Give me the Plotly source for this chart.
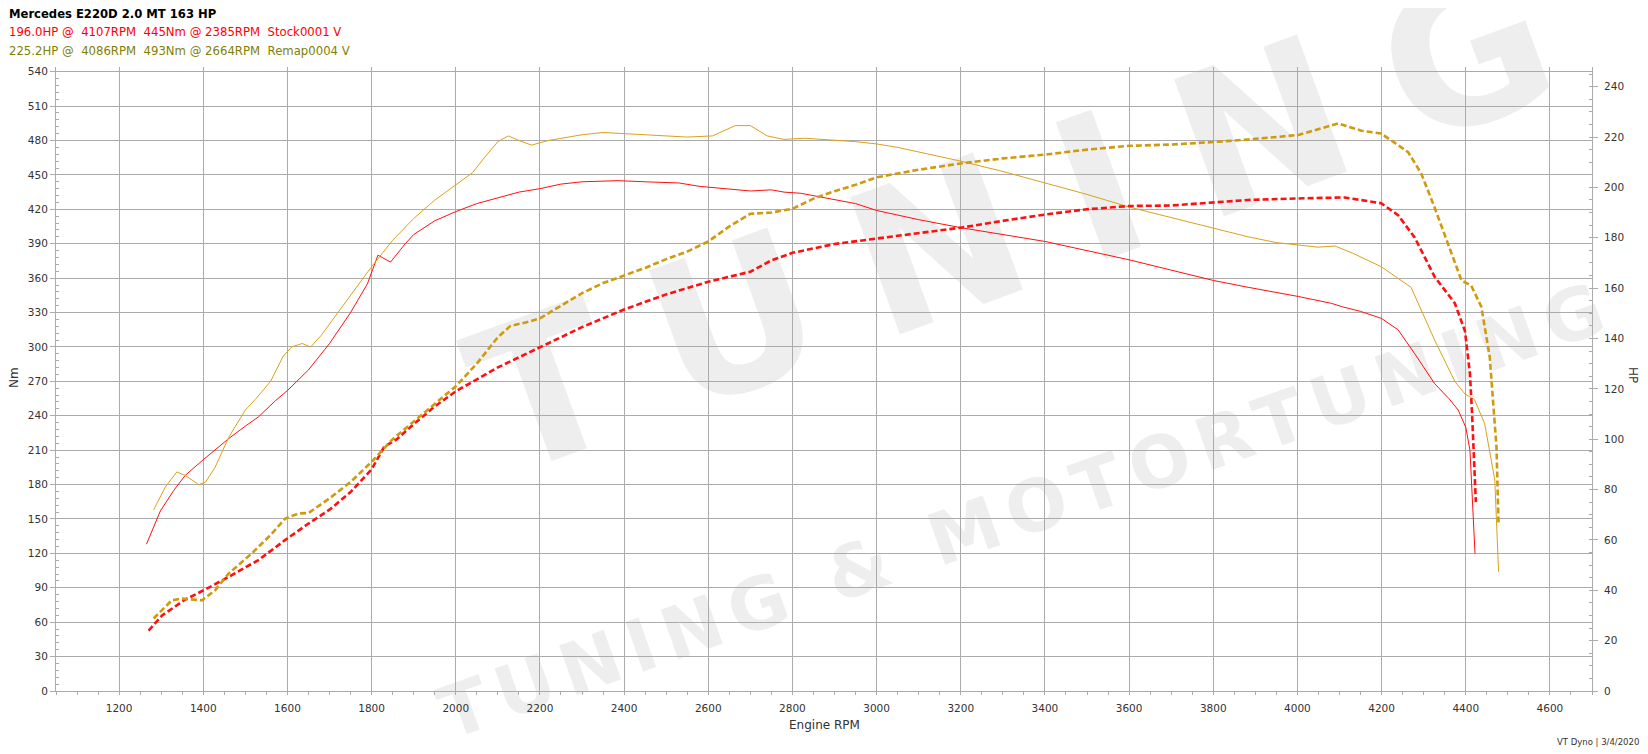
import base64
import plotly.graph_objects as go

# ---------------- data ----------------
stock_tq_rpm = [1265, 1298, 1330, 1357, 1401, 1460, 1500, 1531, 1571, 1600, 1650, 1700, 1750, 1790, 1815, 1845,
                1880, 1900, 1950, 2000, 2050, 2100, 2150, 2200, 2250, 2300, 2385, 2450, 2530, 2580, 2650, 2700,
                2750, 2780, 2820, 2880, 2950, 3000, 3050, 3100, 3200, 3300, 3400, 3500, 3600, 3700, 3800, 3883,
                4002, 4081, 4107, 4150, 4199, 4239, 4279, 4326, 4360, 4382, 4400, 4410, 4415, 4422]
stock_tq_nm = [128, 157, 175, 188, 202, 220, 231, 239, 253, 262, 280, 303, 330, 355, 380, 374,
               390, 398, 410, 418, 425, 430, 435, 438, 442, 444, 445, 444, 443, 440, 438, 436,
               437, 435, 434, 430, 425, 419, 415, 411, 404, 398, 392, 384, 376, 367, 358, 352,
               344, 338, 335, 331, 325, 315, 294, 268, 255, 245, 230, 210, 169, 120]

stock_hp_rpm = [1270, 1302, 1357, 1401, 1460, 1531, 1595, 1650, 1700, 1750, 1800, 1830, 1860, 1900, 1950, 2000,
                2100, 2200, 2300, 2400, 2500, 2600, 2700, 2750, 2800, 2900, 3000, 3100, 3200, 3300, 3400, 3500,
                3600, 3700, 3800, 3883, 4000, 4112, 4199, 4239, 4279, 4326, 4374, 4398, 4410, 4415, 4424]
stock_hp_val = [24, 30, 36.3, 40, 45.3, 52, 60, 66.5, 72, 79, 88, 97, 100, 106, 113, 119,
                128.5, 136.5, 144.5, 151.5, 157.5, 162.5, 166.5, 171, 174, 177.5, 179.6, 181.7, 184, 186.7, 189.2, 191.3,
                192.6, 192.8, 194, 195, 195.6, 196, 193.7, 189, 180, 164.5, 154, 143, 126, 110, 75]

remap_tq_rpm = [1282, 1310, 1337, 1357, 1389, 1405, 1428, 1460, 1500, 1523, 1560, 1590, 1610, 1635, 1655, 1680,
                1720, 1760, 1800, 1850, 1900, 1950, 2000, 2040, 2070, 2100, 2125, 2150, 2180, 2220, 2300, 2350,
                2450, 2550, 2610, 2640, 2664, 2700, 2740, 2780, 2830, 2950, 3000, 3050, 3100, 3200, 3300, 3400,
                3500, 3600, 3700, 3800, 3883, 3950, 4049, 4089, 4130, 4199, 4270, 4326, 4374, 4398, 4421, 4445,
                4469, 4478]
remap_tq_nm = [158, 178, 191, 188, 180, 182, 195, 221, 245, 254, 270, 292, 300, 303, 300, 310,
               330, 350, 370, 393, 412, 428, 441, 452, 466, 479, 484, 480, 476, 480, 485, 487,
               485, 483, 484, 489, 493, 493, 484, 481, 482, 479, 477, 474, 470, 462, 453, 443,
               433, 422, 413, 404, 396, 391, 387, 388, 382, 370, 352, 306, 270, 259, 254, 233,
               184, 104]

remap_hp_rpm = [1282, 1325, 1349, 1397, 1428, 1460, 1515, 1563, 1595, 1626, 1650, 1674, 1700, 1750, 1800, 1850,
                1900, 1950, 2000, 2050, 2100, 2130, 2170, 2200, 2250, 2300, 2350, 2400, 2450, 2500, 2550, 2600,
                2650, 2700, 2750, 2800, 2850, 2900, 2950, 3000, 3100, 3200, 3300, 3400, 3500, 3600, 3700, 3800,
                3883, 4002, 4050, 4097, 4152, 4199, 4263, 4294, 4326, 4358, 4390, 4413, 4437, 4457, 4473, 4478]
remap_hp_val = [28.8, 36, 36.7, 36, 40, 46.6, 54.6, 62.5, 68.5, 70.5, 70.7, 73.4, 76.5, 83, 91, 100,
                107, 114, 121, 130, 140.5, 145, 146.5, 148, 153, 158, 162, 165, 168, 171.5, 174.5, 178.5,
                184.5, 189.5, 190, 191.5, 195.5, 198.5, 201, 204, 207, 209.5, 211.5, 213, 215, 216.5, 217, 218,
                219, 220.8, 223, 225.4, 222.5, 221.4, 214, 205.6, 192, 177.7, 163, 161, 152.6, 132.7, 97, 65.8]

title_line = "Mercedes E220D 2.0 MT 163 HP"
stock_line = "196.0HP @  4107RPM  445Nm @ 2385RPM  Stock0001 V"
remap_line = "225.2HP @  4086RPM  493Nm @ 2664RPM  Remap0004 V"
x_title = "Engine RPM"
y_title = "Nm"
y2_title = "HP"
footer = "VT Dyno | 3/4/2020"
watermark_big = "TUNING"
watermark_small = "TUNING &amp; MOTORTUNING"

# ---------------- styling ----------------
RED = "#FF1010"
GOLD = "#D9A21B"
GOLD_D = "#CF9A0E"
GRID = "#ABABAB"
FONT = "DejaVu Sans"

# page body has an 8px margin; figure is sized so the plot area lands where the reference has it
OFF = 8
W, H = 1648 - OFF, 754 - OFF
ML, MR, MT, MB = 56 - OFF, 56, 67 - OFF, 63

fig = go.Figure()
fig.add_trace(go.Scatter(x=stock_tq_rpm, y=stock_tq_nm, mode="lines", line=dict(color=RED, width=1),
                         name="Stock Nm", yaxis="y"))
fig.add_trace(go.Scatter(x=remap_tq_rpm, y=remap_tq_nm, mode="lines", line=dict(color=GOLD, width=1),
                         name="Remap Nm", yaxis="y"))
fig.add_trace(go.Scatter(x=stock_hp_rpm, y=stock_hp_val, mode="lines",
                         line=dict(color=RED, width=2.6, dash="6px,3px"), name="Stock HP", yaxis="y2"))
fig.add_trace(go.Scatter(x=remap_hp_rpm, y=remap_hp_val, mode="lines",
                         line=dict(color=GOLD_D, width=2.6, dash="6px,3px"), name="Remap HP", yaxis="y2"))

tickfont = dict(family=FONT, size=10.5, color="#333333")

fig.update_layout(
    width=W, height=H,
    margin=dict(l=ML, r=MR, t=MT, b=MB, pad=0),
    paper_bgcolor="white", plot_bgcolor="rgba(0,0,0,0)",
    showlegend=False,
    xaxis=dict(range=[1050, 4700], tick0=1200, dtick=200, showgrid=True, gridcolor=GRID, gridwidth=1,
               showline=True, linecolor=GRID, linewidth=1, ticks="outside", ticklen=3, tickcolor=GRID,
               tickfont=tickfont, zeroline=False, ticklabelstandoff=4,
               minor=dict(dtick=50, tick0=1200, ticks="outside", ticklen=3, tickcolor=GRID, showgrid=False)),
    yaxis=dict(range=[0, 544.1], tick0=0, dtick=30, showgrid=True, gridcolor=GRID, gridwidth=1,
               showline=True, linecolor=GRID, linewidth=1, ticks="outside", ticklen=5, tickcolor=GRID,
               tickfont=tickfont, zeroline=False,
               minor=dict(dtick=6, ticks="inside", ticklen=3, tickcolor=GRID, showgrid=False)),
    yaxis2=dict(range=[0, 247.8], tick0=0, dtick=20, overlaying="y", side="right", showgrid=False,
                showline=True, linecolor=GRID, linewidth=1, ticks="outside", ticklen=5, tickcolor=GRID,
                tickfont=tickfont, zeroline=False, ticklabelstandoff=4,
                minor=dict(dtick=5, ticks="inside", ticklen=3, tickcolor=GRID, showgrid=False)),
)

# convert page-pixel positions (as measured on the reference) to paper coordinates
pl, pt = 56, 67
pr, pb = 1648 - 56, 754 - 63
pw, ph = pr - pl, pb - pt


def px_to_paper(x, y):
    return (x - pl) / pw, (pb - y) / ph


# faint background watermark (decoration behind the chart)
svg = (
    '<svg xmlns="http://www.w3.org/2000/svg" width="1648" height="754" viewBox="0 0 1648 754">'
    '<g fill="#EEEEEE" font-family="DejaVu Sans" font-weight="bold">'
    '<text transform="translate(505,478) rotate(-20)" font-size="200" textLength="1130" '
    'lengthAdjust="spacing">' + watermark_big + '</text>'
    '<text transform="translate(450,740) rotate(-19.5)" font-size="72" textLength="1230" '
    'lengthAdjust="spacing">' + watermark_small + '</text>'
    '</g></svg>'
)
src = "data:image/svg+xml;base64," + base64.b64encode(svg.encode()).decode()
ix, iy = px_to_paper(0, 0)
fig.add_layout_image(dict(source=src, xref="paper", yref="paper", x=ix, y=iy,
                          sizex=1648 / pw, sizey=754 / ph, xanchor="left", yanchor="top",
                          sizing="stretch", layer="below"))

annotations = []
for text, x, y, ang, size, anchor, color in [
    ("<b>" + title_line + "</b>", 7.5, 14, 0, 11.6, "left", "#000000"),
    (stock_line, 7.5, 32, 0, 11.7, "left", "#FF0000"),
    (remap_line, 7.5, 51, 0, 11.7, "left", "#7F7F00"),
    (x_title, 824, 725, 0, 12, "center", "#333333"),
    (y_title, 14, 378, -90, 12, "center", "#333333"),
    (y2_title, 1633, 375, 90, 12, "center", "#333333"),
    (footer, 1640, 742, 0, 8.5, "right", "#333333"),
]:
    xp, yp = px_to_paper(x, y)
    annotations.append(dict(text=text, x=xp, y=yp, xref="paper", yref="paper", xanchor=anchor,
                            yanchor="middle", showarrow=False, textangle=ang, borderpad=0,
                            font=dict(family=FONT, size=size, color=color)))
fig.update_layout(annotations=annotations)

fig.write_html("out.html")
